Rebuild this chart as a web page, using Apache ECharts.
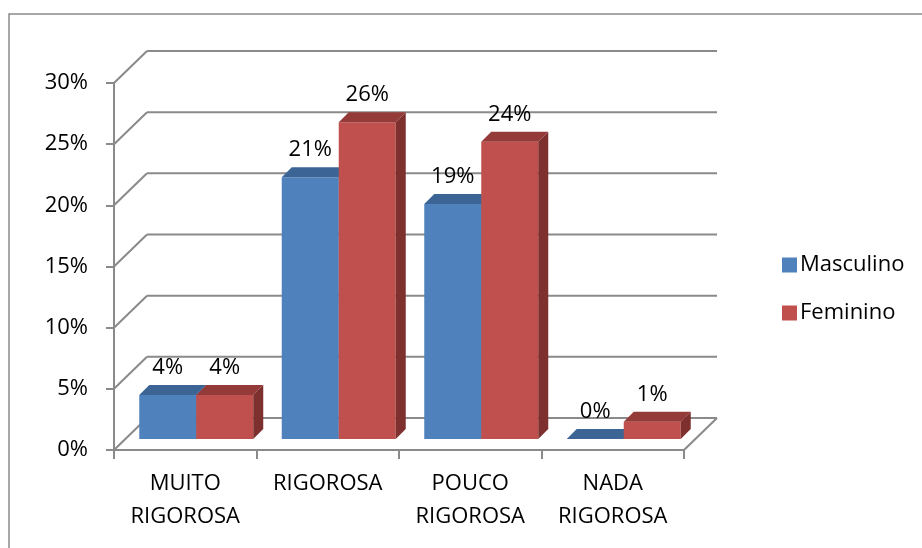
<!DOCTYPE html>
<html>
<head>
<meta charset="utf-8">
<script src="https://cdn.jsdelivr.net/npm/echarts@6/dist/echarts.min.js"></script>
<style>
  html, body { margin: 0; padding: 0; background: #fff; }
  #chart { width: 922px; height: 548px; }
</style>
</head>
<body>
<div id="chart"></div>
<script>
// 数据
const categories = ['MUITO\nRIGOROSA', 'RIGOROSA', 'POUCO\nRIGOROSA', 'NADA\nRIGOROSA'];
const masculino = [3.6, 21.4, 19.2, 0];
const feminino = [3.6, 25.9, 24.3, 1.4];
const yTicks = [0, 5, 10, 15, 20, 25, 30];

const FONT = '"Open Sans", "Noto Sans", sans-serif';
const GRAY = '#8a8a8a';
// 3D 偏移
const WALL_DX = 33, WALL_DY = 32;
const BAR_DX = 11, BAR_DY = 11;
const DEPTH = 10;

const chart = echarts.init(document.getElementById('chart'));

// 背景墙 + 地面
function renderWall(params, api) {
  const cs = params.coordSys;
  const v = api.value(0);
  const y = api.coord([0, v])[1];
  const x0 = cs.x, x1 = cs.x + cs.width;
  const children = [
    { type: 'line', shape: { x1: x0, y1: y, x2: x0 + WALL_DX, y2: y - WALL_DY }, style: { stroke: GRAY, lineWidth: 2 } },
    { type: 'line', shape: { x1: x0 + WALL_DX, y1: y - WALL_DY, x2: x1 + WALL_DX, y2: y - WALL_DY }, style: { stroke: GRAY, lineWidth: 2 } }
  ];
  if (v === 0) {
    children.push({ type: 'line', shape: { x1: x1, y1: y, x2: x1 + WALL_DX, y2: y - WALL_DY }, style: { stroke: GRAY, lineWidth: 2 } });
  }
  return { type: 'group', children: children };
}

// 立体柱子
function makeBar(side, front, top, right) {
  return function (params, api) {
    const ci = api.value(0), v = api.value(1);
    const bandW = api.size([1, 0])[0];
    const barW = bandW * 0.4;
    const c = api.coord([ci, 0]);
    const yTop = api.coord([ci, v])[1] - BAR_DY;
    const yBot = c[1] - BAR_DY;
    const xl = c[0] + BAR_DX + (side === 0 ? -barW : 0);
    const xr = xl + barW;
    return {
      type: 'group',
      children: [
        { type: 'rect', shape: { x: xl, y: yTop, width: barW, height: yBot - yTop }, style: { fill: front } },
        { type: 'polygon', shape: { points: [[xl, yTop], [xr, yTop], [xr + DEPTH, yTop - DEPTH], [xl + DEPTH, yTop - DEPTH]] }, style: { fill: top } },
        { type: 'polygon', shape: { points: [[xr, yTop], [xr + DEPTH, yTop - DEPTH], [xr + DEPTH, yBot - DEPTH], [xr, yBot]] }, style: { fill: right } },
        { type: 'text', x: xl + barW / 2, y: yTop - 27,
          style: { text: Math.round(v) + '%', fill: '#000', font: '22px ' + FONT, align: 'center', verticalAlign: 'middle' } }
      ]
    };
  };
}

let option = {
  backgroundColor: '#fff',
  animation: false,
  graphic: [{
    type: 'rect',
    shape: { x: 9, y: 14, width: 1000, height: 1000 },
    style: { fill: null, stroke: GRAY, lineWidth: 1.5 }
  }],
  legend: {
    orient: 'vertical',
    left: 777,
    top: 249,
    itemWidth: 15,
    itemHeight: 15,
    itemGap: 26,
    icon: 'rect',
    textStyle: { fontSize: 22, fontFamily: FONT, color: '#000', padding: [0, 0, 0, -2] },
    data: ['Masculino', 'Feminino']
  },
  grid: { left: 114, right: 238, top: 83, bottom: 98 },
  xAxis: {
    type: 'category',
    data: categories,
    boundaryGap: true,
    axisLine: { show: true, lineStyle: { color: GRAY, width: 2 } },
    axisTick: { show: true, interval: 0, length: 9, lineStyle: { color: GRAY, width: 2 } },
    axisLabel: { interval: 0, margin: 17, lineHeight: 33, fontSize: 22, fontFamily: FONT, color: '#000' },
    splitLine: { show: false }
  },
  yAxis: {
    type: 'value',
    min: 0,
    max: 30,
    interval: 5,
    axisLine: { show: true, lineStyle: { color: GRAY, width: 2 } },
    axisTick: { show: true, length: 8, lineStyle: { color: GRAY, width: 2 } },
    axisLabel: { formatter: '{value}%', margin: 26, fontSize: 22, fontFamily: FONT, color: '#000' },
    splitLine: { show: false }
  },
  series: [
    {
      type: 'custom',
      name: 'wall',
      clip: false,
      z: 1,
      silent: true,
      renderItem: renderWall,
      data: yTicks.map(v => [v])
    },
    {
      type: 'custom',
      name: 'Masculino',
      clip: false,
      z: 3,
      itemStyle: { color: '#4F81BD' },
      renderItem: makeBar(0, '#4F81BD', '#3C6595', '#385D8A'),
      data: masculino.map((v, i) => [i, v])
    },
    {
      type: 'custom',
      name: 'Feminino',
      clip: false,
      z: 4,
      itemStyle: { color: '#C0504D' },
      renderItem: makeBar(1, '#C0504D', '#943A38', '#7E302E'),
      data: feminino.map((v, i) => [i, v])
    }
  ]
};

chart.setOption(option);
</script>
</body>
</html>
